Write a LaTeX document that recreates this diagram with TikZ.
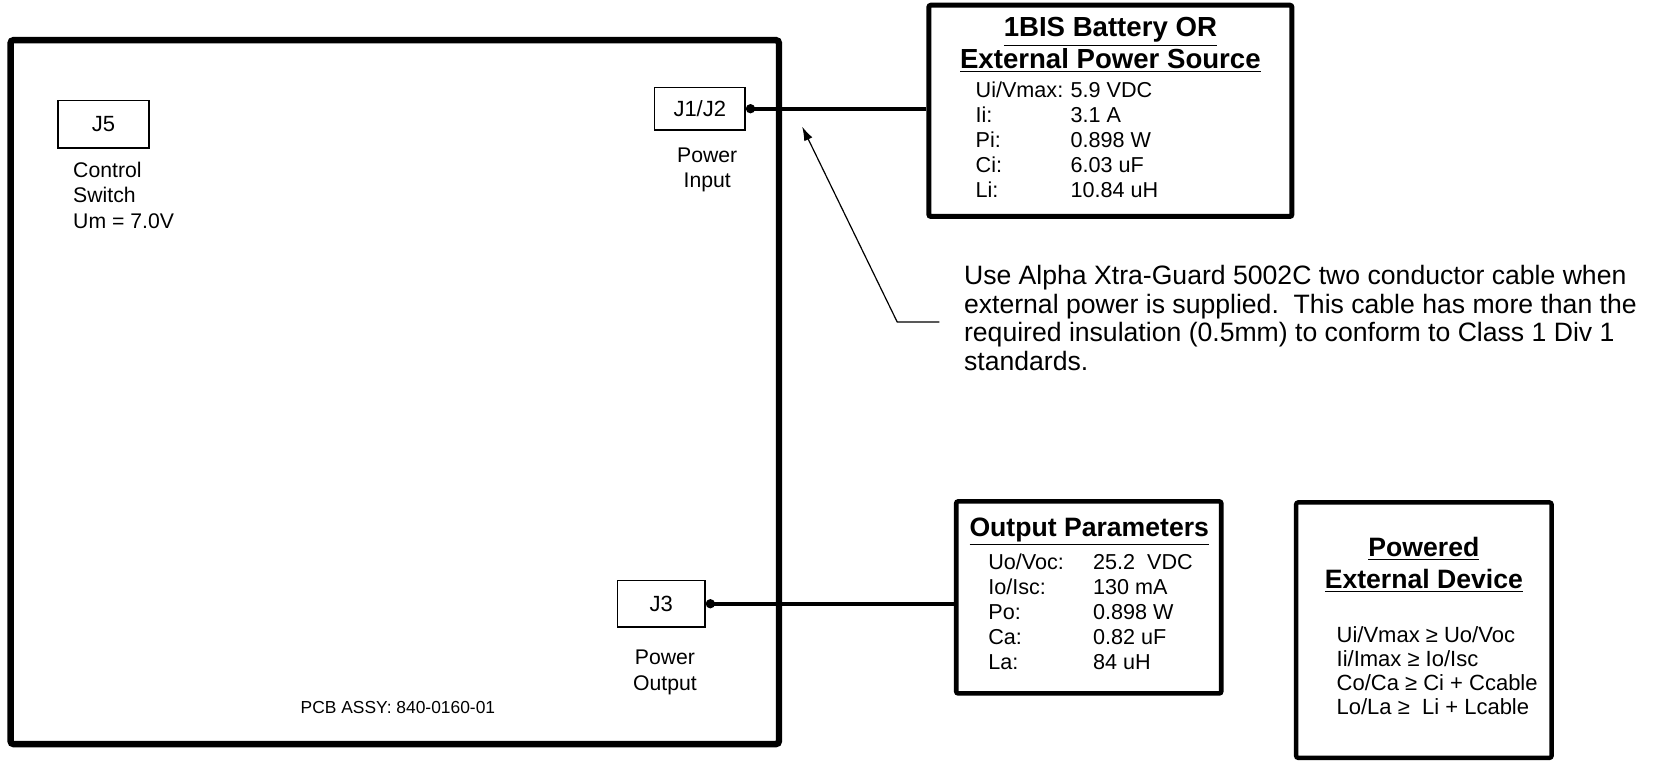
\documentclass[tikz,border=0pt]{standalone}
\usepackage{fontspec}
\setmainfont{Liberation Sans}
\usepackage{tikz}
\usetikzlibrary{positioning,arrows.meta}
\tikzset{
  board/.style ={draw, line width=3.2pt, rounded corners=1.5pt, inner sep=0pt,
                 minimum width=384.2pt, minimum height=352pt},
  jack/.style  ={draw, line width=0.8pt, inner sep=0pt, font=\fontsize{11}{13}\selectfont},
  panel/.style ={draw, line width=2.5pt, rounded corners=1pt, inner sep=0pt},
  lbl/.style   ={inner sep=0pt, font=\fontsize{10.6}{12.67}\selectfont},
  ttl/.style   ={inner sep=0pt, font=\fontsize{13.3}{16.2}\selectfont\bfseries},
  par/.style   ={inner sep=0pt, font=\fontsize{10.8}{12.6}\selectfont},
  wire/.style  ={{Circle[length=4.5pt]}-, line width=2.2pt},
  callout/.style={-{Latex[length=7pt,width=4.5pt]}, line width=0.6pt},
}
\begin{document}
\begin{tikzpicture}[x=0.52776pt,y=-0.52776pt]
\useasboundingbox (0,0) rectangle (1568,721);

% pcb board with its jacks
\node[board] (pcb) at (374,371.5) {};
\node[jack,minimum width=45.4pt,minimum height=23.7pt] (j5) at (98,117.5) {J5};
\node[jack,minimum width=45.4pt,minimum height=21.1pt] (j12) at (663,103) {J1/J2};
\node[jack,minimum width=43.8pt,minimum height=23.2pt] (j3) at (626.5,572) {J3};

\node[lbl,anchor=base west] (j5lbl) at (69,168)
  {\begin{tabular}[t]{@{}l@{}}Control\\ Switch\\ Um = 7.0V\end{tabular}};
\node[lbl,anchor=base] (j12lbl) at (670,154)
  {\begin{tabular}[t]{@{}c@{}}Power\\ Input\end{tabular}};
\node[lbl,anchor=base] (j3lbl) at (630,630)
  {\begin{tabular}[t]{@{}c@{}}Power\\ Output\end{tabular}};
\node[inner sep=0pt,font=\fontsize{8.7}{10}\selectfont,anchor=base] (assy) at (377,676)
  {PCB ASSY: 840-0160-01};

% battery / external source
\node[panel,minimum width=181.5pt,minimum height=105.6pt] (batt) at (1052,105) {};
\node[ttl,anchor=base,font=\fontsize{13.8}{15.8}\selectfont\bfseries] (batttl) at (1052,35)
  {\begin{tabular}[t]{@{}c@{}}\underline{1BIS Battery OR}\\ \underline{External Power Source}\end{tabular}};
\node[par,anchor=base west] (battpar) at (924,92)
  {\begin{tabular}[t]{@{}p{47.5pt}@{}l@{}}
   Ui/Vmax: & 5.9 VDC\\ Ii: & 3.1 A\\ Pi: & 0.898 W\\ Ci: & 6.03 uF\\ Li: & 10.84 uH
   \end{tabular}};

% output parameters
\node[panel,line width=2.3pt,minimum width=132.5pt,minimum height=96pt] (outp) at (1031.5,566) {};
\node[ttl,anchor=base] (outttl) at (1032,508) {\underline{Output Parameters}};
\node[par,anchor=base west,font=\fontsize{10.8}{12.5}\selectfont] (outpar) at (936,540)
  {\begin{tabular}[t]{@{}p{52.4pt}@{}l@{}}
   Uo/Voc: & 25.2\ \ VDC\\ Io/Isc: & 130 mA\\ Po: & 0.898 W\\ Ca: & 0.82 uF\\ La: & 84 uH
   \end{tabular}};

% powered device
\node[panel,line width=2.2pt,minimum width=127.7pt,minimum height=127.7pt] (dev) at (1349,597) {};
\node[ttl,anchor=base] (devttl) at (1349,527)
  {\begin{tabular}[t]{@{}c@{}}\underline{Powered}\\ \underline{External Device}\end{tabular}};
\node[inner sep=0pt,anchor=base west,font=\fontsize{11}{12.1}\selectfont] (devpar) at (1266,608.5)
  {\begin{tabular}[t]{@{}l@{}}
   Ui/Vmax ≥ Uo/Voc\\ Ii/Imax ≥ Io/Isc\\ Co/Ca ≥ Ci + Ccable\\ Lo/La ≥\ \ Li + Lcable
   \end{tabular}};

% cable note
\node[inner sep=0pt,anchor=base west,font=\fontsize{13.3}{14.25}\selectfont] (note) at (913,270)
  {\begin{tabular}[t]{@{}l@{}}
   Use Alpha Xtra-Guard 5002C two conductor cable when\\
   external power is supplied.\ \ This cable has more than the\\
   required insulation (0.5mm) to conform to Class 1 Div 1\\
   standards.
   \end{tabular}};
\coordinate (notehook) at (890,305);
\coordinate (cabletip) at (760,120);

% wiring
\draw[wire] (j12.east) -- (j12.east -| batt.west);
\draw[wire] (j3.east) -- (j3.east -| outp.west);
\draw[callout] (notehook) -- ++(-40,0) -- (cabletip);
\end{tikzpicture}
\end{document}
